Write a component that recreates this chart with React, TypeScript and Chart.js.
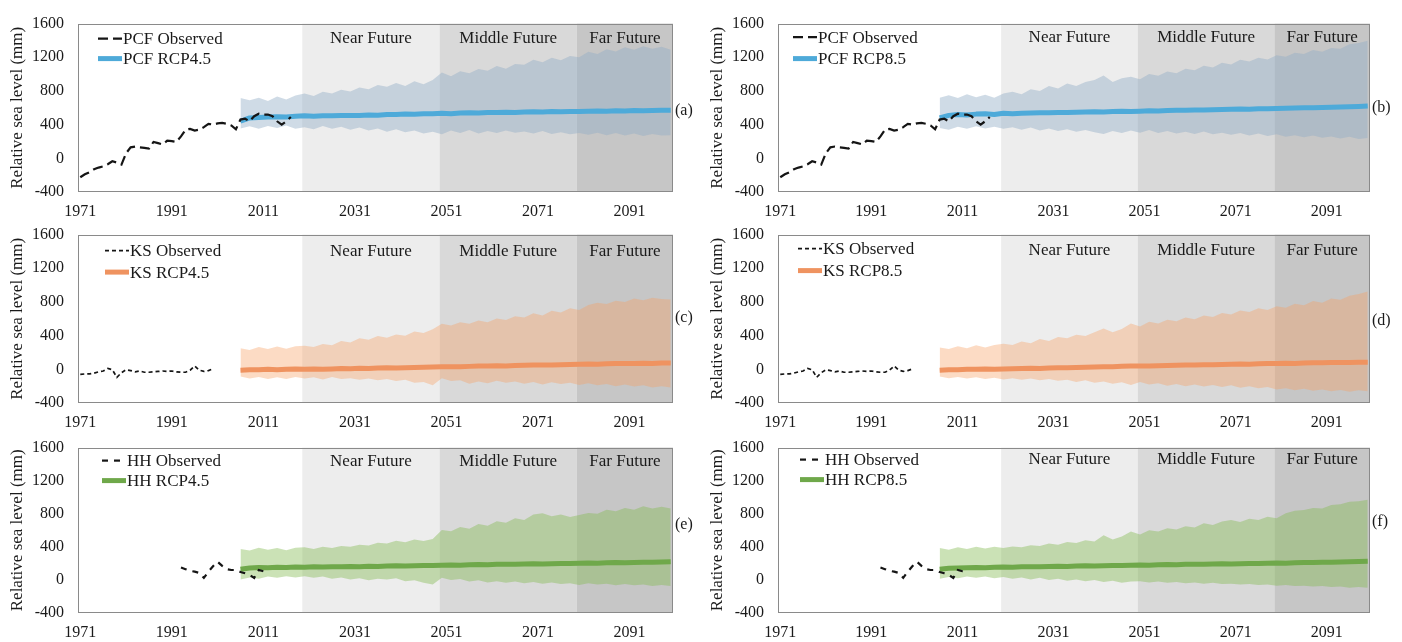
import React, { useEffect, useRef } from "react";
import { Chart, registerables } from "chart.js";

Chart.register(...registerables);

const FONT = '"Liberation Serif", "Times New Roman", Times, serif';
const TEXT = "#1a1a1a";

// Axis ticks
const X_TICKS = [1971, 1991, 2011, 2031, 2051, 2071, 2091];
const Y_TICKS = [-400, 0, 400, 800, 1200, 1600];

// Future periods shaded behind the projections
const PERIOD_NAMES = ["Near Future", "Middle Future", "Far Future"];
const PERIOD_EDGES = [2019.5, 2049.5, 2079.5, 2100.5];
const PERIOD_FILLS = ["#ededed", "#d9d9d9", "#c6c6c6"];

// Projection years (ensemble mean and range)
const PROJ_YEARS = [
  2006, 2008, 2010, 2012, 2014, 2016, 2018, 2020,
  2022, 2024, 2026, 2028, 2030, 2032, 2034, 2036,
  2038, 2040, 2042, 2044, 2046, 2048, 2050, 2052,
  2054, 2056, 2058, 2060, 2062, 2064, 2066, 2068,
  2070, 2072, 2074, 2076, 2078, 2080, 2082, 2084,
  2086, 2088, 2090, 2092, 2094, 2096, 2098, 2100,
];

// Observed relative sea level (mm)
const PCF_OBS_START = 1971;
const PCF_OBS = [
  -225, -190, -165, -130, -110, -95, -70, -35, -50, -75,
  60, 130, 140, 130, 125, 115, 195, 180, 165, 210,
  205, 195, 260, 340, 350, 330, 340, 370, 410, 400,
  415, 420, 410, 390, 345, 460, 470, 440, 500, 530,
  520, 520, 500, 440, 400, 440, 490,
];
const KS_OBS_START = 1971;
const KS_OBS = [
  -60, -55, -55, -45, -30, -20, 10, -5, -95, -40,
  -5, -15, -30, -20, -35, -35, -30, -25, -20, -25,
  -20, -30, -35, -35, -10, 40, -10, -25, -15, 5,
];
const HH_OBS_START = 1993;
const HH_OBS = [
  150, 130, 110, 100, 85, 25, 100, 165, 220, 170,
  130, 120, 120, 95, 80, 60, 25, 120, 105, 100,
];

// PCF projections
const PCF45_MEAN = [
  440, 480, 485, 490, 495, 490, 500, 505,
  500, 505, 505, 510, 510, 508, 515, 512,
  520, 520, 525, 522, 528, 530, 535, 530,
  538, 540, 538, 545, 545, 548, 545, 550,
  552, 550, 555, 553, 556, 555, 560, 562,
  560, 565, 563, 567, 565, 568, 570, 570,
];
const PCF45_HIGH = [
  715, 690, 720, 680, 735, 700, 745, 770,
  740, 790, 770, 815, 795, 840, 820, 870,
  850, 895, 860, 915, 880, 930, 1020, 975,
  1035, 1010, 1060, 1040, 1095, 1065, 1120, 1110,
  1170, 1140, 1195, 1165, 1215, 1200, 1265, 1240,
  1295, 1270, 1320, 1290, 1330, 1300, 1325, 1290,
];
const PCF45_LOW = [
  355, 380, 350, 385, 360, 390, 350, 370,
  345, 385, 350, 375, 340, 365, 330, 355,
  315, 345, 310, 330, 295, 315, 285, 330,
  300, 335, 295, 325, 300, 330, 305, 320,
  295, 325, 290, 310, 285, 300, 280, 305,
  275, 300, 270, 295, 265, 290, 270, 275,
];
const PCF85_MEAN = [
  480, 510, 520, 515, 525, 530, 520, 535,
  530, 535, 538, 540, 542, 545, 543, 548,
  550, 552, 550, 555, 558, 555, 560, 565,
  563, 568, 570, 572, 575, 573, 578, 580,
  582, 585, 583, 588, 590, 592, 595, 598,
  600, 602, 605, 608, 610, 612, 615, 620,
];
const PCF85_HIGH = [
  720, 750, 715, 760, 725, 755, 720, 770,
  790, 760, 820, 800, 860, 830, 890, 860,
  905, 930, 985, 905, 950, 970, 940, 1000,
  980, 1030, 1010, 1065, 1045, 1100, 1080, 1135,
  1115, 1170, 1150, 1195, 1175, 1225, 1205, 1255,
  1240, 1285, 1265, 1310, 1300, 1355, 1370, 1395,
];
const PCF85_LOW = [
  360, 340, 375, 350, 380, 355, 375, 350,
  370, 340, 365, 330, 355, 325, 345, 315,
  335, 310, 290, 325, 300, 330, 305, 335,
  300, 325, 295, 315, 290, 320, 285, 305,
  280, 300, 270, 295, 265, 285, 255, 275,
  250, 270, 245, 260, 235, 255, 230, 240,
];

// KS projections
const KS45_MEAN = [
  -10, -5, -5, 0, -5, 0, 5, 0,
  5, 0, 5, 10, 8, 12, 10, 15,
  18, 15, 20, 22, 25, 28, 30, 32,
  30, 35, 38, 40, 42, 40, 45, 48,
  50, 52, 50, 55, 58, 60, 62, 60,
  65, 68, 70, 68, 72, 70, 75, 75,
];
const KS45_HIGH = [
  250, 230, 265, 240, 270, 245, 275, 280,
  265, 300, 285, 335, 320, 370, 350, 395,
  375, 415, 400, 450, 430, 475, 540, 520,
  560, 540, 580, 560, 605, 585, 630, 615,
  665, 640, 695, 675, 725, 705, 765, 790,
  775, 815, 800, 840, 820, 850, 835, 830,
];
const KS45_LOW = [
  -85, -110, -90, -115, -95, -115, -90, -110,
  -95, -120, -90, -115, -105, -125, -110, -130,
  -115, -140, -125, -160, -150, -190, -105, -140,
  -130, -170, -145, -165, -135, -160, -145, -170,
  -150, -180, -155, -175, -160, -185, -165, -190,
  -175, -200, -180, -205, -190, -215, -200, -215,
];
const KS85_MEAN = [
  -10, -5, -5, 0, 0, 5, 0, 5,
  8, 10, 12, 10, 15, 18, 20, 22,
  25, 28, 30, 32, 35, 38, 40, 38,
  42, 45, 48, 50, 52, 55, 55, 58,
  60, 62, 60, 65, 68, 70, 72, 70,
  75, 78, 78, 80, 82, 80, 85, 85,
];
const KS85_HIGH = [
  260, 240, 275, 250, 285, 260, 290, 305,
  290, 330, 310, 360, 335, 385, 370, 410,
  395, 440, 485, 440, 480, 545, 510, 565,
  545, 590, 570, 615, 595, 640, 620, 670,
  650, 700, 680, 725, 705, 750, 730, 780,
  760, 810, 790, 840, 825, 875, 895, 925,
];
const KS85_LOW = [
  -85, -105, -90, -110, -95, -115, -100, -120,
  -105, -125, -110, -130, -115, -135, -125, -150,
  -130, -160, -145, -170, -155, -185, -150, -180,
  -165, -195, -175, -200, -180, -205, -185, -210,
  -190, -220, -200, -225, -210, -240, -225, -250,
  -230, -255, -240, -260, -245, -265, -250, -260,
];

// HH projections
const HH45_MEAN = [
  130, 145, 150, 148, 152, 150, 155, 153,
  158, 155, 160, 158, 162, 160, 165, 163,
  168, 170, 168, 172, 175, 173, 178, 180,
  178, 182, 185, 183, 188, 190, 188, 192,
  195, 193, 197, 200, 198, 202, 205, 203,
  207, 210, 208, 212, 215, 213, 217, 220,
];
const HH45_HIGH = [
  375, 355, 390, 365, 385, 360, 390, 395,
  375, 400, 385, 410, 400, 425, 415, 450,
  440, 475, 455, 490, 470, 495, 605, 590,
  640, 620, 675, 655, 710, 690, 745, 725,
  790, 805, 770, 790, 760, 785, 810, 800,
  850, 830, 870, 850, 890, 865, 885, 865,
];
const HH45_LOW = [
  5, 30, 15, 40, 25, 45, 30, 45,
  25, 40, 15, 30, 5, 20, -5, 15,
  5, 20, -15, -5, -35, -55, 25, 0,
  10, -20, -5, -30, -15, -35, -20, -40,
  -25, -45, -30, -50, -40, -60, -40, -55,
  -45, -65, -50, -65, -55, -75, -60, -75,
];
const HH85_MEAN = [
  130, 140, 145, 148, 150, 148, 152, 155,
  153, 158, 160, 158, 162, 165, 163, 168,
  170, 168, 172, 175, 173, 178, 180, 178,
  182, 185, 183, 188, 190, 188, 192, 195,
  193, 197, 200, 198, 202, 205, 203, 207,
  210, 212, 215, 213, 217, 220, 222, 225,
];
const HH85_HIGH = [
  385, 365, 395, 375, 400, 380, 400, 385,
  405, 395, 420, 410, 440, 425, 460, 445,
  480, 465, 540, 490, 525, 585, 550, 600,
  585, 625, 610, 650, 635, 685, 665, 705,
  725, 700, 740, 725, 765, 745, 805, 835,
  845, 870, 865, 905, 915, 945, 950, 970,
];
const HH85_LOW = [
  15, 35, 20, 40, 25, 40, 20, 35,
  15, 30, 5, 25, 0, 15, -10, 5,
  -15, 0, -25, -10, -35, -20, -15, -30,
  -20, -35, -25, -40, -30, -45, -35, -50,
  -45, -55, -50, -60, -55, -70, -60, -75,
  -70, -80, -75, -85, -80, -95, -85, -95,
];

type Panel = {
  tag: string;
  site: string;
  scenario: string;
  obsStart: number;
  obs: number[];
  mean: number[];
  high: number[];
  low: number[];
  line: string;
  band: string;
  dash: number[];
  obsWidth: number;
  box: { left: number; top: number; width: number; height: number; padRight: number };
  legendDx: number;
  legendDy: [number, number];
  periodDy: number;
  tagAt: number;
};

const BLUE = "#4eaad9";
const BLUE_BAND = "rgba(146, 172, 198, 0.44)";
const ORANGE = "#ef9360";
const ORANGE_BAND = "rgba(248, 160, 100, 0.38)";
const GREEN = "#6fa84a";
const GREEN_BAND = "rgba(130, 185, 80, 0.42)";

const PANELS: Panel[] = [
  {
    tag: "(a)", site: "PCF", scenario: "RCP4.5", obsStart: PCF_OBS_START, obs: PCF_OBS,
    mean: PCF45_MEAN, high: PCF45_HIGH, low: PCF45_LOW, line: BLUE, band: BLUE_BAND,
    dash: [10, 5], obsWidth: 2.2,
    box: { left: 0, top: 0, width: 700, height: 220, padRight: 27 },
    legendDx: 20, legendDy: [15, 35], periodDy: 15, tagAt: 570,
  },
  {
    tag: "(b)", site: "PCF", scenario: "RCP8.5", obsStart: PCF_OBS_START, obs: PCF_OBS,
    mean: PCF85_MEAN, high: PCF85_HIGH, low: PCF85_LOW, line: BLUE, band: BLUE_BAND,
    dash: [10, 5], obsWidth: 2.2,
    box: { left: 700, top: 0, width: 702, height: 220, padRight: 32 },
    legendDx: 15, legendDy: [13.5, 35], periodDy: 13.5, tagAt: 600,
  },
  {
    tag: "(c)", site: "KS", scenario: "RCP4.5", obsStart: KS_OBS_START, obs: KS_OBS,
    mean: KS45_MEAN, high: KS45_HIGH, low: KS45_LOW, line: ORANGE, band: ORANGE_BAND,
    dash: [4, 3], obsWidth: 1.7,
    box: { left: 0, top: 211, width: 700, height: 220, padRight: 27 },
    legendDx: 27, legendDy: [16, 37.5], periodDy: 17, tagAt: 612,
  },
  {
    tag: "(d)", site: "KS", scenario: "RCP8.5", obsStart: KS_OBS_START, obs: KS_OBS,
    mean: KS85_MEAN, high: KS85_HIGH, low: KS85_LOW, line: ORANGE, band: ORANGE_BAND,
    dash: [4, 3], obsWidth: 1.7,
    box: { left: 700, top: 211, width: 702, height: 220, padRight: 32 },
    legendDx: 20, legendDy: [14, 36], periodDy: 16, tagAt: 577,
  },
  {
    tag: "(e)", site: "HH", scenario: "RCP4.5", obsStart: HH_OBS_START, obs: HH_OBS,
    mean: HH45_MEAN, high: HH45_HIGH, low: HH45_LOW, line: GREEN, band: GREEN_BAND,
    dash: [6, 6], obsWidth: 2.2,
    box: { left: 0, top: 424, width: 700, height: 217, padRight: 27 },
    legendDx: 24, legendDy: [13, 33], periodDy: 14, tagAt: 668,
  },
  {
    tag: "(f)", site: "HH", scenario: "RCP8.5", obsStart: HH_OBS_START, obs: HH_OBS,
    mean: HH85_MEAN, high: HH85_HIGH, low: HH85_LOW, line: GREEN, band: GREEN_BAND,
    dash: [6, 6], obsWidth: 2.2,
    box: { left: 700, top: 424, width: 702, height: 217, padRight: 32 },
    legendDx: 22, legendDy: [12, 32], periodDy: 12, tagAt: 699,
  },
];

const series = (years: number[], vals: number[]) => vals.map((v, i) => ({ x: years[i], y: v }));
const observed = (start: number, vals: number[]) => vals.map((v, i) => ({ x: start + i, y: v }));

// Period shading, frame, in-plot legend, period names and the panel tag
const panelDecor = (p: Panel) => ({
  id: "panelDecor",
  beforeDatasetsDraw(chart: any) {
    const { ctx, chartArea: a, scales } = chart;
    const x = scales.x;
    ctx.save();
    for (let i = 0; i < PERIOD_NAMES.length; i++) {
      const x0 = x.getPixelForValue(PERIOD_EDGES[i]);
      const x1 = x.getPixelForValue(PERIOD_EDGES[i + 1]);
      ctx.fillStyle = PERIOD_FILLS[i];
      ctx.fillRect(x0, a.top, x1 - x0, a.bottom - a.top);
    }
    ctx.restore();
  },
  afterDatasetsDraw(chart: any) {
    const { ctx, chartArea: a, scales } = chart;
    const x = scales.x;
    const y = scales.y;
    ctx.save();
    ctx.fillStyle = TEXT;
    ctx.font = `17px ${FONT}`;
    ctx.textAlign = "center";
    ctx.textBaseline = "middle";
    for (let i = 0; i < PERIOD_NAMES.length; i++) {
      const x0 = x.getPixelForValue(PERIOD_EDGES[i]);
      const x1 = x.getPixelForValue(PERIOD_EDGES[i + 1]);
      ctx.fillText(PERIOD_NAMES[i], (x0 + x1) / 2, a.top + p.periodDy);
    }

    // frame
    ctx.strokeStyle = "#8a8a8a";
    ctx.lineWidth = 1;
    ctx.strokeRect(Math.round(a.left) + 0.5, Math.round(a.top) + 0.5,
      Math.round(a.right - a.left) - 1, Math.round(a.bottom - a.top) - 1);

    // legend
    const ds = chart.data.datasets;
    const lx = a.left + p.legendDx;
    const entries = [ds[0], ds[1]];
    entries.forEach((d: any, k: number) => {
      const ly = a.top + p.legendDy[k];
      ctx.beginPath();
      ctx.strokeStyle = d.borderColor;
      ctx.lineWidth = d.borderWidth;
      ctx.setLineDash(d.borderDash || []);
      ctx.lineCap = "butt";
      ctx.moveTo(lx, ly);
      ctx.lineTo(lx + 24, ly);
      ctx.stroke();
      ctx.setLineDash([]);
      ctx.fillStyle = TEXT;
      ctx.font = `17px ${FONT}`;
      ctx.textAlign = "left";
      ctx.textBaseline = "middle";
      ctx.fillText(d.label, lx + 25, ly + 1);
    });

    // panel tag
    ctx.font = `16px ${FONT}`;
    ctx.textAlign = "left";
    ctx.textBaseline = "middle";
    ctx.fillStyle = TEXT;
    ctx.fillText(p.tag, a.right + 2, y.getPixelForValue(p.tagAt));
    ctx.restore();
  },
});

function PanelChart({ p }: { p: Panel }) {
  const ref = useRef<HTMLCanvasElement | null>(null);
  useEffect(() => {
    if (!ref.current) return;
    const chart = new Chart(ref.current, {
      type: "line",
      data: {
        datasets: [
          {
            label: `${p.site} Observed`,
            data: observed(p.obsStart, p.obs),
            borderColor: "#151515",
            borderWidth: p.obsWidth,
            borderDash: p.dash,
            pointRadius: 0,
            fill: false,
            tension: 0,
            order: 0,
          },
          {
            label: `${p.site} ${p.scenario}`,
            data: series(PROJ_YEARS, p.mean),
            borderColor: p.line,
            borderWidth: 5,
            borderJoinStyle: "round",
            pointRadius: 0,
            fill: false,
            tension: 0,
            order: 1,
          },
          {
            label: "upper",
            data: series(PROJ_YEARS, p.high),
            borderColor: "rgba(0,0,0,0)",
            borderWidth: 0,
            backgroundColor: p.band,
            pointRadius: 0,
            fill: "+1",
            tension: 0,
            order: 2,
          },
          {
            label: "lower",
            data: series(PROJ_YEARS, p.low),
            borderColor: "rgba(0,0,0,0)",
            borderWidth: 0,
            pointRadius: 0,
            fill: false,
            tension: 0,
            order: 3,
          },
        ] as any,
      },
      options: {
        animation: false,
        responsive: false,
        devicePixelRatio: 1,
        events: [],
        layout: { padding: { top: 18, right: p.box.padRight, bottom: 0, left: 0 } },
        plugins: { legend: { display: false }, tooltip: { enabled: false } },
        scales: {
          x: {
            type: "linear",
            min: 1970.5,
            max: 2100.5,
            grid: { display: false, drawTicks: false },
            border: { display: false },
            afterBuildTicks: (s: any) => {
              s.ticks = X_TICKS.map((v) => ({ value: v }));
            },
            afterFit: (s: any) => {
              s.height = 28;
            },
            ticks: {
              autoSkip: false,
              maxRotation: 0,
              padding: 10,
              color: TEXT,
              font: { family: FONT, size: 16 },
              callback: (v: any) => String(v),
            },
          },
          y: {
            type: "linear",
            min: -400,
            max: 1600,
            grid: { display: false, drawTicks: false },
            border: { display: false },
            afterBuildTicks: (s: any) => {
              s.ticks = Y_TICKS.map((v) => ({ value: v }));
            },
            afterFit: (s: any) => {
              s.width = 78;
            },
            ticks: {
              padding: 14,
              color: TEXT,
              font: { family: FONT, size: 16 },
              callback: (v: any) => String(v),
            },
            title: {
              display: true,
              text: "Relative sea level (mm)",
              color: TEXT,
              font: { family: FONT, size: 17 },
              padding: { top: 7, bottom: 0 },
            },
          },
        },
      } as any,
      plugins: [panelDecor(p)],
    });
    return () => chart.destroy();
  }, [p]);
  return (
    <canvas
      ref={ref}
      width={p.box.width}
      height={p.box.height}
      style={{ position: "absolute", left: p.box.left, top: p.box.top, width: p.box.width, height: p.box.height }}
    />
  );
}

export default function App() {
  return (
    <div style={{ position: "absolute", left: 0, top: 0, width: 1402, height: 642, background: "#fff", overflow: "hidden" }}>
      {PANELS.map((p) => (
        <PanelChart key={p.tag} p={p} />
      ))}
    </div>
  );
}
